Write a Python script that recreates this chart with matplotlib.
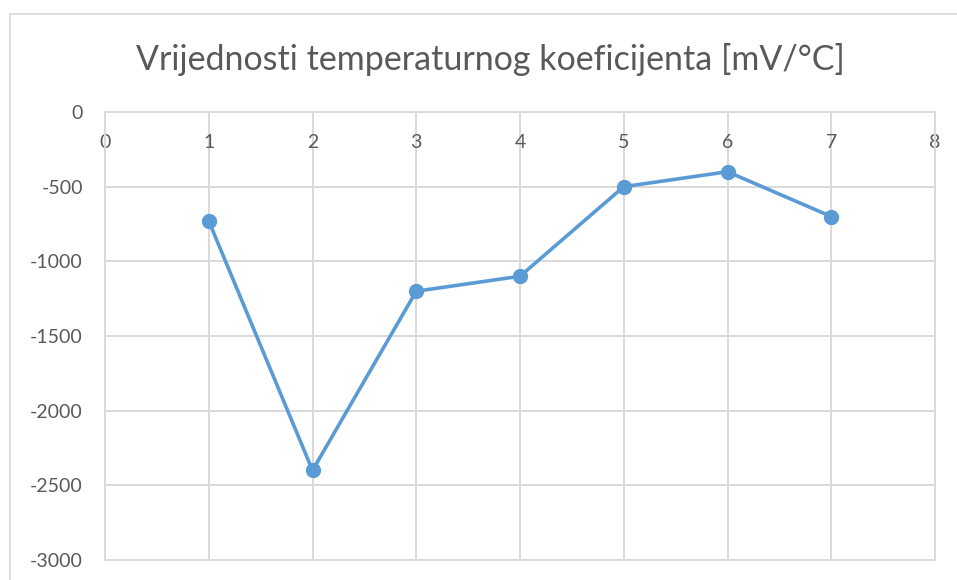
import matplotlib.pyplot as plt
from matplotlib.lines import Line2D

# Mjerene vrijednosti
x_vals = [1, 2, 3, 4, 5, 6, 7]
y_vals = [-730, -2400, -1200, -1100, -500, -400, -700]
x_ticks = [0, 1, 2, 3, 4, 5, 6, 7, 8]
y_ticks = [0, -500, -1000, -1500, -2000, -2500, -3000]
title = 'Vrijednosti temperaturnog koeficijenta [mV/°C]'

plt.rcParams['font.family'] = ['Lato', 'DejaVu Sans']
plt.rcParams['axes.unicode_minus'] = False

fig = plt.figure(figsize=(9.57, 5.8), dpi=100)
ax = fig.add_axes([105 / 957, 1 - 560 / 580, 830 / 957, 448 / 580])

grid_c = '#d9d9d9'
text_c = '#595959'
line_c = '#5b9bd5'

ax.plot(x_vals, y_vals, color=line_c, lw=2.6, marker='o', markersize=10,
        zorder=3, clip_on=False)

ax.set_xlim(0, 8)
ax.set_ylim(-3000, 0)
ax.set_xticks(x_ticks)
ax.set_yticks(y_ticks)
ax.grid(True, color=grid_c, lw=1.4)
ax.set_axisbelow(True)
for s in ax.spines.values():
    s.set_color(grid_c)
    s.set_linewidth(1.4)

# x os je na nuli (gore), oznake ispod linije
ax.xaxis.tick_top()
ax.tick_params(axis='both', length=0, colors=text_c, labelsize=14)
ax.tick_params(axis='x', pad=-28)
ax.tick_params(axis='y', pad=16)

fig.text(490 / 957, 1 - 60 / 580, title, ha='center', va='center',
         fontsize=24.5, color=text_c)

# okvir grafikona
fig.add_artist(Line2D([10 / 957, 10 / 957], [0, 1 - 14 / 580],
                      transform=fig.transFigure, color=grid_c, lw=1.2))
fig.add_artist(Line2D([10 / 957, 1], [1 - 14 / 580, 1 - 14 / 580],
                      transform=fig.transFigure, color=grid_c, lw=1.2))

fig.savefig('out.png', dpi=100)
